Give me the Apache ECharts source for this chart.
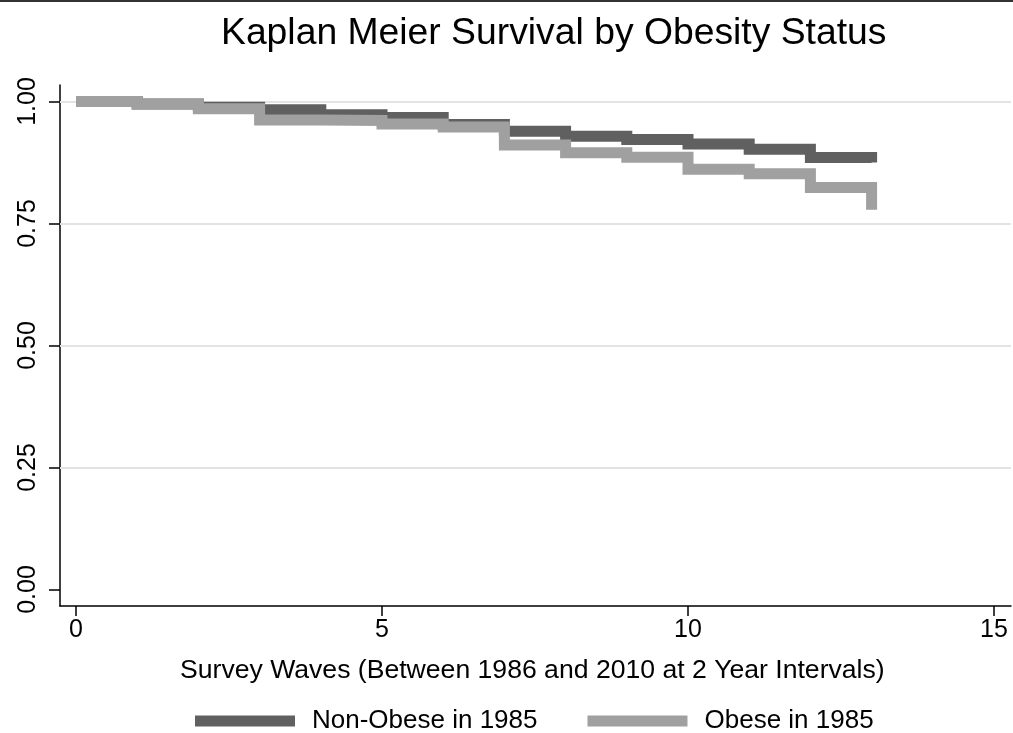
<!DOCTYPE html>
<html>
<head>
<meta charset="utf-8">
<script src="https://cdn.jsdelivr.net/npm/echarts@6/dist/echarts.min.js"></script>
<style>html,body{margin:0;padding:0;background:#fff;}#c{width:1013px;height:733px;}</style>
</head>
<body>
<div id="c"></div>
<script>
// Survey wave (time) points
const waves = [0, 1, 2, 3, 4, 5, 6, 7, 8, 9, 10, 11, 12, 13];
// Kaplan-Meier survival estimates
const nonObese = [1.000, 0.995, 0.988, 0.983, 0.973, 0.967, 0.953, 0.939, 0.929, 0.922, 0.913, 0.902, 0.885, 0.875];
const obese    = [1.000, 0.995, 0.985, 0.962, 0.961, 0.954, 0.948, 0.911, 0.895, 0.886, 0.861, 0.852, 0.824, 0.778];
const seriesNames = ['Non-Obese in 1985', 'Obese in 1985'];
const xTicks = [0, 5, 10, 15];
const yTicks = [0, 0.25, 0.5, 0.75, 1];
const yGrid = [0.25, 0.5, 0.75, 1];
const titleText = 'Kaplan Meier Survival by Obesity Status';
const xTitle = 'Survey Waves (Between 1986 and 2010 at 2 Year Intervals)';

const FONT = 'Liberation Sans, Arial, sans-serif';
const DARK = '#606060', LIGHT = '#a0a0a0';

const chart = echarts.init(document.getElementById('c'), null, {renderer: 'canvas'});
const pairs = (xs, ys) => xs.map((x, i) => [x, ys[i]]);

chart.setOption({
  animation: false,
  backgroundColor: '#ffffff',
  graphic: [
    {type: 'line', shape: {x1: 0, y1: 1, x2: 1013, y2: 1}, style: {stroke: '#333', lineWidth: 2}},
    {type: 'text', left: 221, top: 15,
     style: {text: titleText, fontFamily: FONT, fontSize: 37.3, fill: '#000'}},
    {type: 'text', left: 180, top: 657,
     style: {text: xTitle, fontFamily: FONT, fontSize: 26.6, fill: '#000'}}
  ],
  legend: {
    left: 190, top: 703,
    itemWidth: 100, itemHeight: 11, itemGap: 50,
    icon: 'rect',
    data: seriesNames,
    textStyle: {fontFamily: FONT, fontSize: 26, color: '#000', padding: [0, 0, 0, 12]}
  },
  grid: {left: 60, right: 2, top: 85, bottom: 127, containLabel: false},
  xAxis: {
    type: 'value',
    min: -16 / 61.2, max: 15 + 17 / 61.2,
    axisLine: {show: true, onZero: false, lineStyle: {color: '#000', width: 1.5}},
    axisTick: {show: true, length: 10, customValues: xTicks, lineStyle: {color: '#000', width: 1.5}},
    axisLabel: {customValues: xTicks, margin: 12, fontFamily: FONT, fontSize: 25, color: '#000',
                showMinLabel: true, showMaxLabel: true},
    splitLine: {show: false}
  },
  yAxis: {
    type: 'value',
    min: -16.5 / 488, max: 1 + 16.5 / 488,
    axisLine: {show: true, onZero: false, lineStyle: {color: '#000', width: 1.5}},
    axisTick: {show: true, length: 11, customValues: yTicks, lineStyle: {color: '#000', width: 1.5}},
    axisLabel: {customValues: yTicks, rotate: 90, margin: 19, fontFamily: FONT, fontSize: 25, color: '#000',
                formatter: v => v.toFixed(2), showMinLabel: true, showMaxLabel: true},
    splitLine: {show: false}
  },
  series: [
    {
      name: seriesNames[0], type: 'line', step: 'end', showSymbol: false, symbol: 'none',
      data: pairs(waves, nonObese),
      color: DARK,
      lineStyle: {color: DARK, width: 11, cap: 'butt', join: 'miter'},
      itemStyle: {color: DARK},
      z: 3,
      markLine: {
        silent: true, symbol: 'none', z: 1,
        label: {show: false},
        lineStyle: {color: '#e3e3e3', width: 2, type: 'solid'},
        data: yGrid.map(v => ({yAxis: v}))
      }
    },
    {
      name: seriesNames[1], type: 'line', step: 'end', showSymbol: false, symbol: 'none',
      data: pairs(waves, obese),
      color: LIGHT,
      lineStyle: {color: LIGHT, width: 11, cap: 'butt', join: 'miter'},
      itemStyle: {color: LIGHT},
      z: 4
    }
  ]
});
</script>
</body>
</html>
